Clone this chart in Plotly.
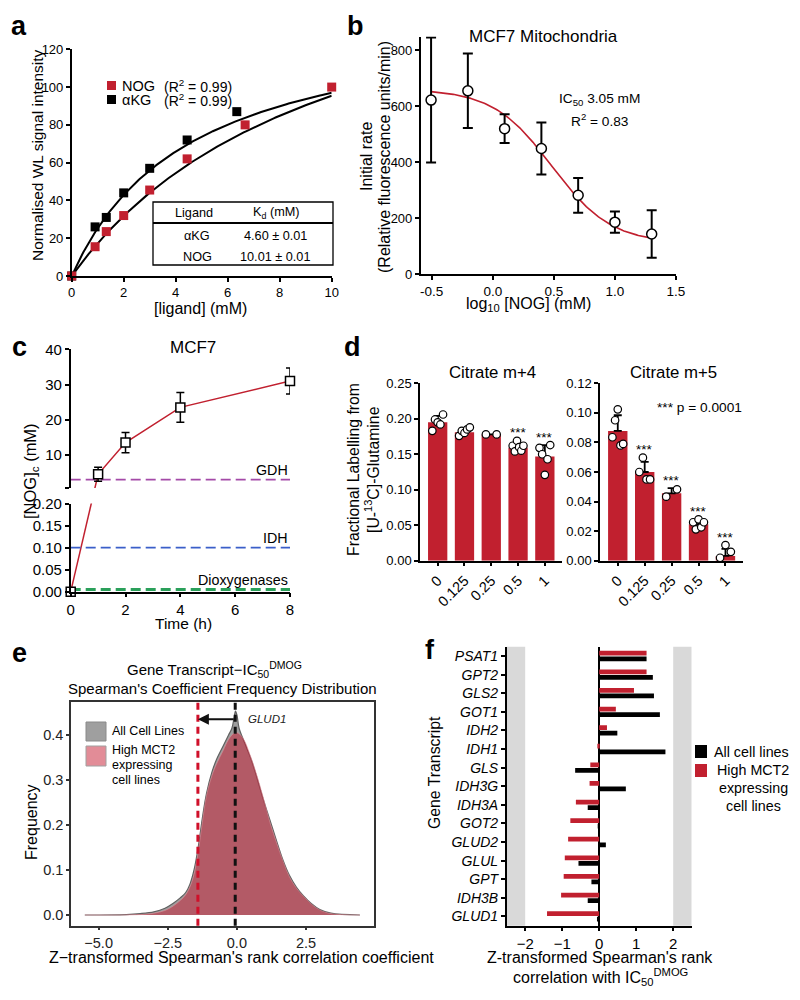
import numpy as np
import plotly.graph_objects as go

FONT = "Liberation Sans, Arial, Helvetica, sans-serif"
W, H = 800, 1000

# ---------------- data ----------------
# panel a
a_nog_x = [0, 0.9, 1.33, 2, 3, 4.44, 6.67, 10]
a_nog_y = [0, 15.5, 23.5, 32, 45.5, 62, 80, 100]
a_akg_x = [0, 0.9, 1.33, 2, 3, 4.44, 6.35]
a_akg_y = [0, 26, 31, 44, 57, 72, 87]
kd_akg, bmax_akg = 4.60, 141.6
kd_nog, bmax_nog = 10.01, 191.0
table_ligands = ["αKG", "NOG"]
table_kd = ["4.60 ± 0.01", "10.01 ± 0.01"]
r2_labels = ["NOG", "αKG"]

# panel b
b_x = [-0.505, -0.204, 0.097, 0.398, 0.699, 1.0, 1.301]
b_y = [621, 654, 519, 448, 281, 185, 143]
b_err = [223, 133, 51, 93, 62, 38, 85]
b_top, b_bottom, b_logic50, b_hill = 660, 110, np.log10(3.05), 1.8

# panel c
c_t = [0, 1, 2, 4, 8]
c_y = [0, 4.5, 13.5, 23.5, 31]
c_err = [0, 2.0, 2.9, 4.2, 3.7]
c_gdh, c_idh, c_diox = 3.0, 0.10, 0.005

# panel d
d_doses = ["0", "0.125", "0.25", "0.5", "1"]
m4_means = [0.195, 0.181, 0.178, 0.159, 0.147]
m4_sd = [0.009, 0.006, 0.0, 0.006, 0.016]
m4_points = [[0.183, 0.199, 0.195, 0.192, 0.206],
             [0.176, 0.183, 0.180, 0.185, 0.188],
             [0.178, 0.178],
             [0.162, 0.154, 0.169, 0.160, 0.155, 0.162],
             [0.159, 0.150, 0.121, 0.143, 0.163]]
m4_sig = [False, False, False, True, True]
m5_means = [0.0878, 0.060, 0.0456, 0.0246, 0.0032]
m5_sd = [0.0106, 0.0068, 0.0035, 0.003, 0.0048]
m5_points = [[0.0835, 0.095, 0.1024, 0.078, 0.079],
             [0.060, 0.0697, 0.055, 0.055],
             [0.0433, 0.0483],
             [0.026, 0.0212, 0.028, 0.0226, 0.026],
             [0.002, 0.0106, 0.006]]
m5_sig = [False, True, True, True, True]

# panel e (density curves)
e_gray_x = [-5.5, -4.0, -3.5, -3.0, -2.6, -2.3, -2.05, -1.85, -1.7, -1.55, -1.4, -1.25, -1.1, -0.9,
            -0.74, -0.5, -0.3, -0.18, -0.1, -0.05, 0.0, 0.08, 0.2, 0.35, 0.55, 0.75, 0.95, 1.2,
            1.45, 1.68, 1.9, 2.15, 2.4, 2.7, 3.0, 3.4, 4.45]
e_gray_y = [0, 0.001, 0.003, 0.007, 0.015, 0.026, 0.038, 0.05, 0.068, 0.10, 0.15, 0.215, 0.27, 0.318,
            0.345, 0.375, 0.40, 0.415, 0.438, 0.453, 0.445, 0.415, 0.395, 0.372, 0.34, 0.30, 0.258, 0.21,
            0.162, 0.12, 0.088, 0.062, 0.043, 0.025, 0.012, 0.004, 0]
e_red_x = [-5.5, -3.5, -3.0, -2.6, -2.3, -2.05, -1.85, -1.7, -1.55, -1.4, -1.25, -1.1, -0.9, -0.74,
           -0.5, -0.3, -0.1, 0.05, 0.25, 0.47, 0.7, 0.95, 1.2, 1.45, 1.68, 1.9, 2.15, 2.4, 2.7, 3.0,
           3.4, 4.45]
e_red_y = [0, 0.001, 0.004, 0.010, 0.020, 0.032, 0.045, 0.062, 0.09, 0.14, 0.205, 0.265, 0.31, 0.335,
           0.365, 0.39, 0.404, 0.404, 0.39, 0.357, 0.315, 0.262, 0.205, 0.158, 0.118, 0.085, 0.06,
           0.042, 0.024, 0.011, 0.003, 0]
e_ticks = [-5.0, -2.5, 0.0, 2.5]

# panel f
f_genes = ["PSAT1", "GPT2", "GLS2", "GOT1", "IDH2", "IDH1", "GLS", "IDH3G", "IDH3A",
           "GOT2", "GLUD2", "GLUL", "GPT", "IDH3B", "GLUD1"]
f_all = [1.28, 1.45, 1.48, 1.64, 0.49, 1.79, -0.65, 0.72, -0.31, -0.04, 0.18, -0.56, -0.21, -0.31, -0.06]
f_mct2 = [1.28, 1.28, 0.94, 0.45, 0.21, -0.05, -0.24, -0.26, -0.63, -0.78, -0.84, -0.93, -0.96, -1.03, -1.41]

RED = "#c1202f"

# ---------------- helpers ----------------
def dx(x0, x1):
    return [x0 / W, x1 / W]

def dy(ytop, ybot):
    return [1 - ybot / H, 1 - ytop / H]

def tf(size, color="black"):
    return dict(size=size, color=color, family=FONT)

def ax(**kw):
    base = dict(showline=True, linecolor="black", linewidth=1.5, ticks="outside", ticklen=4,
                tickwidth=1.5, tickcolor="black", showgrid=False, zeroline=False, tickfont=tf(13),
                automargin=False)
    base.update(kw)
    return base

annots = []
shapes = []

def ann(text, x, y, size=13, xanchor="center", yanchor="middle", angle=0, **kw):
    d = dict(text=text, x=x / W, y=1 - y / H, xref="paper", yref="paper", showarrow=False,
             font=tf(size, kw.pop("color", "black")), xanchor=xanchor, yanchor=yanchor, textangle=angle)
    d.update(kw)
    annots.append(d)

def rect(x0, y0, x1, y1, fill, line="black", lw=1):
    shapes.append(dict(type="rect", xref="paper", yref="paper", x0=x0 / W, x1=x1 / W,
                       y0=1 - y1 / H, y1=1 - y0 / H, fillcolor=fill, line=dict(color=line, width=lw)))

def hline(x0, x1, y, lw=1):
    shapes.append(dict(type="line", xref="paper", yref="paper", x0=x0 / W, x1=x1 / W,
                       y0=1 - y / H, y1=1 - y / H, line=dict(color="black", width=lw)))

fig = go.Figure()

# ---------------- panel a ----------------
xs = np.linspace(0, 10, 200)
fig.add_trace(go.Scatter(x=xs, y=bmax_akg * xs / (kd_akg + xs), mode="lines",
                         line=dict(color="black", width=2), xaxis="x", yaxis="y"))
fig.add_trace(go.Scatter(x=xs, y=bmax_nog * xs / (kd_nog + xs), mode="lines",
                         line=dict(color="black", width=2), xaxis="x", yaxis="y"))
fig.add_trace(go.Scatter(x=a_akg_x, y=a_akg_y, mode="markers", cliponaxis=False,
                         marker=dict(symbol="square", size=9, color="black"), xaxis="x", yaxis="y"))
fig.add_trace(go.Scatter(x=a_nog_x, y=a_nog_y, mode="markers", cliponaxis=False,
                         marker=dict(symbol="square", size=9, color=RED), xaxis="x", yaxis="y"))

rect(107, 81, 116, 90, RED, line=RED, lw=0)
rect(107, 95, 116, 104, "black", line="black", lw=0)
ann(r2_labels[0], 120, 86, 14.5, xanchor="left")
ann(r2_labels[1], 120, 100, 14.5, xanchor="left")
ann("(R<sup>2</sup> = 0.99)", 162, 86, 14, xanchor="left")
ann("(R<sup>2</sup> = 0.99)", 162, 100, 14, xanchor="left")
rect(153, 202, 333, 265, "rgba(0,0,0,0)", lw=1.3)
hline(153, 333, 223, lw=2)
ann("Ligand", 194, 213, 12.7)
ann("K<sub>d</sub> (mM)", 276, 213, 12.7)
for i, (lig, kd) in enumerate(zip(table_ligands, table_kd)):
    ann(lig, 197, 236 + 21 * i, 12.7)
    ann(kd, 275, 236 + 21 * i, 12.7)
ann("Normalised WL signal intensity", 37, 155, 15.5, angle=-90)
ann("[ligand] (mM)", 200, 308, 16)

# ---------------- panel b ----------------
xb = np.linspace(-0.505, 1.301, 200)
fig.add_trace(go.Scatter(x=xb, y=b_bottom + (b_top - b_bottom) / (1 + 10 ** ((xb - b_logic50) * b_hill)),
                         mode="lines", line=dict(color=RED, width=1.6), xaxis="x2", yaxis="y2"))
fig.add_trace(go.Scatter(x=b_x, y=b_y, mode="markers", cliponaxis=False,
                         error_y=dict(type="data", array=b_err, color="black", thickness=2, width=5),
                         marker=dict(symbol="circle", size=10, color="white",
                                     line=dict(color="black", width=1.5)),
                         xaxis="x2", yaxis="y2"))
ann("MCF7 Mitochondria", 543, 36, 17)
ann("IC<sub>50</sub> 3.05 mM", 599, 100, 13.7)
ann("R<sup>2</sup> = 0.83", 600, 120, 13.7)
ann("Initial rate", 366, 157, 16, angle=-90)
ann("(Relative fluorescence units/min)", 384, 157, 16, angle=-90)
ann("log<sub>10</sub> [NOG] (mM)", 528, 305, 16)

# ---------------- panel c (broken axis) ----------------
TOP_T, BOT_T, RT = 349.3, 488.0, [0.6, 40]
TOP_B, BOT_B, RB = 503.5, 591.7, [0, 0.2]

def pix_top(v):
    return BOT_T - (v - RT[0]) / (RT[1] - RT[0]) * (BOT_T - TOP_T)

def val_bottom(p):
    return RB[0] + (BOT_B - p) / (BOT_B - TOP_B) * (RB[1] - RB[0])

def val_top(p):
    return RT[0] + (BOT_T - p) / (BOT_T - TOP_T) * (RT[1] - RT[0])

def pix_bottom(v):
    return BOT_B - (v - RB[0]) / (RB[1] - RB[0]) * (BOT_B - TOP_B)

y1_in_bottom = val_bottom(pix_top(c_y[1]))
y0_in_top = val_top(pix_bottom(c_y[0]))

fig.add_trace(go.Scatter(x=c_t[:2], y=[c_y[0], y1_in_bottom], mode="lines",
                         line=dict(color=RED, width=1.5), xaxis="x3", yaxis="y3"))
fig.add_trace(go.Scatter(x=c_t, y=[y0_in_top] + c_y[1:], mode="lines",
                         line=dict(color=RED, width=1.5), xaxis="x4", yaxis="y4"))
fig.add_trace(go.Scatter(x=[0, 8], y=[c_gdh, c_gdh], mode="lines",
                         line=dict(color="#a44aa8", width=1.8, dash="10px,5px"), xaxis="x4", yaxis="y4"))
fig.add_trace(go.Scatter(x=[0, 8], y=[c_idh, c_idh], mode="lines",
                         line=dict(color="#3b5fc9", width=1.8, dash="10px,5px"), xaxis="x3", yaxis="y3"))
fig.add_trace(go.Scatter(x=[0, 8], y=[c_diox, c_diox], mode="lines",
                         line=dict(color="#2aa05a", width=3, dash="10px,5px"), xaxis="x3", yaxis="y3"))
fig.add_trace(go.Scatter(x=c_t[1:], y=c_y[1:], mode="markers", cliponaxis=False,
                         error_y=dict(type="data", array=c_err[1:], color="black", thickness=1.5, width=4),
                         marker=dict(symbol="square", size=9, color="white", line=dict(color="black", width=1.5)),
                         xaxis="x4", yaxis="y4"))
fig.add_trace(go.Scatter(x=c_t[:1], y=c_y[:1], mode="markers", cliponaxis=False,
                         marker=dict(symbol="square", size=9, color="white", line=dict(color="black", width=1.5)),
                         xaxis="x3", yaxis="y3"))
for txt, yv, xa, ya in [("GDH", c_gdh, "x4", "y4"), ("IDH", c_idh, "x3", "y3"),
                        ("Dioxygenases", c_diox, "x3", "y3")]:
    annots.append(dict(text=txt, x=8, y=yv, xref=xa, yref=ya, showarrow=False, xanchor="right",
                       yanchor="bottom", yshift=0, font=tf(14.3)))
ann("MCF7", 193, 347, 17)
ann("[NOG]<sub>c</sub> (mM)", 31, 471, 16.5, angle=-90)
ann("Time (h)", 183, 623, 15.5)

# ---------------- panel d ----------------
def offsets(n):
    return np.linspace(-0.2, 0.2, n) if n > 1 else np.zeros(1)

for xa, ya, means, sd, pts, sig in [("x5", "y5", m4_means, m4_sd, m4_points, m4_sig),
                                    ("x6", "y6", m5_means, m5_sd, m5_points, m5_sig)]:
    idx = list(range(len(d_doses)))
    fig.add_trace(go.Bar(x=idx, y=means, width=0.72, offset=-0.36, marker=dict(color=RED, line=dict(width=0)),
                         error_y=dict(type="data", symmetric=False, array=sd, arrayminus=[0] * len(sd),
                                      color="black", thickness=1.8, width=4),
                         xaxis=xa, yaxis=ya))
    px_, py_ = [], []
    for i, p in enumerate(pts):
        for o, v in zip(offsets(len(p)), p):
            px_.append(i + o)
            py_.append(v)
    fig.add_trace(go.Scatter(x=px_, y=py_, mode="markers", cliponaxis=False,
                             marker=dict(size=7.5, color="white", line=dict(color="black", width=1.2)),
                             xaxis=xa, yaxis=ya))
    for i, s in enumerate(sig):
        if s:
            top = max(max(pts[i]), means[i] + sd[i])
            annots.append(dict(text="***", x=i, y=top, xref=xa, yref=ya, showarrow=False,
                               yanchor="middle", yshift=8, font=tf(13.5)))

ann("Citrate m+4", 492, 372, 16.8)
ann("Citrate m+5", 673, 372, 16.8)
ann("*** p = 0.0001", 699, 407, 13.7)
ann("Fractional Labelling from", 353, 470, 15.8, angle=-90)
ann("[U-<sup>13</sup>C]-Glutamine", 372, 470, 15.8, angle=-90)

# ---------------- panel e ----------------
fig.add_trace(go.Scatter(x=e_gray_x, y=e_gray_y, mode="lines", fill="tozeroy",
                         fillcolor="rgba(150,150,150,0.92)", line=dict(color="#606060", width=1.2, shape="spline"),
                         xaxis="x7", yaxis="y7"))
fig.add_trace(go.Scatter(x=e_red_x, y=e_red_y, mode="lines", fill="tozeroy",
                         fillcolor="rgba(200,22,45,0.5)", line=dict(color="rgba(225,140,150,0.7)", width=0.8,
                                                                     shape="spline"),
                         xaxis="x7", yaxis="y7"))
glud1_mct2 = f_mct2[f_genes.index("GLUD1")]
glud1_all = f_all[f_genes.index("GLUD1")]
shapes.append(dict(type="line", xref="x7", yref="y7 domain", x0=glud1_mct2, x1=glud1_mct2, y0=0, y1=1,
                   line=dict(color="#d0102a", width=3, dash="7px,5px")))
shapes.append(dict(type="line", xref="x7", yref="y7 domain", x0=glud1_all, x1=glud1_all, y0=0, y1=1,
                   line=dict(color="#111111", width=3, dash="7px,5px")))
annots.append(dict(text="", x=glud1_mct2, y=0.435, ax=glud1_all, ay=0.435, xref="x7", yref="y7",
                   axref="x7", ayref="y7", showarrow=True, arrowhead=2, arrowsize=1, arrowwidth=2.2,
                   arrowcolor="#111111"))
annots.append(dict(text="<i>GLUD1</i>", x=0.33, y=0.435, xref="x7", yref="y7", showarrow=False,
                   xanchor="left", yanchor="middle", font=tf(11.5, "#222")))
rect(86, 722, 106, 741, "#9f9f9f", line="#8a8a8a", lw=1)
rect(86, 746, 106, 766, "#e28c97", line="#a0a0a0", lw=1)
ann("All Cell Lines", 110, 731, 12.5, xanchor="left")
ann("High MCT2", 110, 750, 12.5, xanchor="left")
ann("expressing", 110, 765, 12.5, xanchor="left")
ann("cell lines", 110, 780, 12.5, xanchor="left")
ann("Gene Transcript−IC<sub>50</sub><sup>DMOG</sup>", 214, 669, 15)
ann("Spearman's Coefficient Frequency Distribution", 222, 688, 15)
ann("Frequency", 31, 822, 16, angle=-90)
ann("Z−transformed Spearman's rank correlation coefficient", 241, 957, 16)

# ---------------- panel f ----------------
shapes.append(dict(type="rect", xref="x8", yref="y8 domain", x0=-2.5, x1=-2, y0=0, y1=1,
                   fillcolor="#d9d9d9", line=dict(width=0), layer="below"))
shapes.append(dict(type="rect", xref="x8", yref="y8 domain", x0=2, x1=2.5, y0=0, y1=1,
                   fillcolor="#d9d9d9", line=dict(width=0), layer="below"))
fig.add_trace(go.Bar(y=f_genes, x=f_all, orientation="h", marker=dict(color="black", line=dict(width=0)),
                     xaxis="x8", yaxis="y8"))
fig.add_trace(go.Bar(y=f_genes, x=f_mct2, orientation="h", marker=dict(color=RED, line=dict(width=0)),
                     xaxis="x8", yaxis="y8"))
rect(695, 745, 707, 758, "black", line="black", lw=0)
rect(695, 764, 707, 777, RED, line=RED, lw=0)
ann("All cell lines", 712, 752, 14.3, xanchor="left")
ann("High MCT2", 753, 770, 14.3)
ann("expressing", 753, 788, 14.3)
ann("cell lines", 753, 806, 14.3)
ann("Gene Transcript", 434, 773, 15.8, angle=-90)
ann("Z-transformed Spearman's rank", 600, 957, 16)
ann("correlation with IC<sub>50</sub><sup>DMOG</sup>", 600, 977, 16)

for letter, x, y in [("a", 19, 26), ("b", 355, 26), ("c", 19, 347), ("d", 352, 347),
                     ("e", 19, 653), ("f", 430, 650)]:
    ann("<b>%s</b>" % letter, x, y, 27)

# ---------------- layout ----------------
layout = dict(
    width=W, height=H, margin=dict(l=0, r=0, t=0, b=0, pad=0, autoexpand=False), autosize=False,
    paper_bgcolor="white", plot_bgcolor="rgba(0,0,0,0)", showlegend=False,
    font=dict(family=FONT, color="black"),
    barmode="group", bargap=0.4, bargroupgap=0.15,
    annotations=annots, shapes=shapes,
    xaxis=ax(domain=dx(71.7, 331.7), range=[0, 10], tickvals=[0, 2, 4, 6, 8, 10], anchor="y"),
    yaxis=ax(domain=dy(49.3, 276), range=[0, 120], tickvals=[0, 20, 40, 60, 80, 100, 120], anchor="x"),
    xaxis2=ax(domain=dx(420.7, 676), range=[-0.59, 1.5], tickvals=[-0.5, 0, 0.5, 1.0, 1.5],
              ticktext=["-0.5", "0.0", "0.5", "1.0", "1.5"], anchor="y2", tickfont=tf(13.5)),
    yaxis2=ax(domain=dy(36.5, 274), range=[0, 848], tickvals=[0, 200, 400, 600, 800], anchor="x2",
              tickfont=tf(13)),
    xaxis3=ax(domain=dx(70.7, 290), range=[0, 8], tickvals=[0, 2, 4, 6, 8], anchor="y3", tickfont=tf(15)),
    yaxis3=ax(domain=dy(TOP_B, BOT_B), range=RB, tickvals=[0, 0.05, 0.1, 0.15, 0.2],
              ticktext=["0.00", "0.05", "0.10", "0.15", "0.20"], anchor="x3", tickfont=tf(15)),
    xaxis4=dict(domain=dx(70.7, 290), range=[0, 8], visible=False, anchor="y4", automargin=False),
    yaxis4=ax(domain=dy(TOP_T, BOT_T), range=RT, tickvals=[RT[0], 10, 20, 30, 40],
              ticktext=["", "10", "20", "30", "40"], anchor="x4", tickfont=tf(15)),
    xaxis5=ax(domain=dx(420, 562), range=[-0.66, 4.64], tickvals=list(range(5)), ticktext=d_doses,
              tickangle=-45, anchor="y5", tickfont=tf(14.5)),
    yaxis5=ax(domain=dy(383.3, 560.7), range=[0, 0.25], tickvals=[0, 0.05, 0.1, 0.15, 0.2, 0.25],
              ticktext=["0.00", "0.05", "0.10", "0.15", "0.20", "0.25"], anchor="x5", tickfont=tf(13)),
    xaxis6=ax(domain=dx(600, 742.7), range=[-0.66, 4.64], tickvals=list(range(5)), ticktext=d_doses,
              tickangle=-45, anchor="y6", tickfont=tf(14.5)),
    yaxis6=ax(domain=dy(383.3, 560.7), range=[0, 0.12], tickvals=[0, 0.02, 0.04, 0.06, 0.08, 0.1, 0.12],
              ticktext=["0.00", "0.02", "0.04", "0.06", "0.08", "0.10", "0.12"], anchor="x6", tickfont=tf(13)),
    xaxis7=ax(domain=dx(71, 374), range=[-6.0, 4.96], tickvals=e_ticks,
              ticktext=["−5.0", "−2.5", "0.0", "2.5"], anchor="y7", mirror=True, linecolor="#333",
              tickcolor="#333", ticklen=3, tickfont=tf(14.5, "#222")),
    yaxis7=ax(domain=dy(701.7, 925.7), range=[-0.0238, 0.474], tickvals=[0, 0.1, 0.2, 0.3, 0.4],
              ticktext=["0.0", "0.1", "0.2", "0.3", "0.4"], anchor="x7", mirror=True, linecolor="#333",
              tickcolor="#333", ticklen=3, tickfont=tf(14.5, "#222")),
    xaxis8=ax(domain=dx(506.7, 691.7), range=[-2.5, 2.5], tickvals=[-2, -1, 0, 1, 2], anchor="y8",
              zeroline=True, zerolinecolor="black", zerolinewidth=2, tickfont=tf(15)),
    yaxis8=ax(domain=dy(646.7, 925.7), type="category", categoryorder="array",
              categoryarray=f_genes[::-1], range=[-0.5, 14.5], anchor="x8",
              tickvals=f_genes, ticktext=["<i>%s</i>" % g for g in f_genes], tickfont=tf(14)),
)
fig.update_layout(**layout)
fig.write_html("out.html", config={"displayModeBar": False},
               post_script="document.body.style.margin='0px';document.body.style.overflow='hidden';"
                           "document.documentElement.style.overflow='hidden';")
